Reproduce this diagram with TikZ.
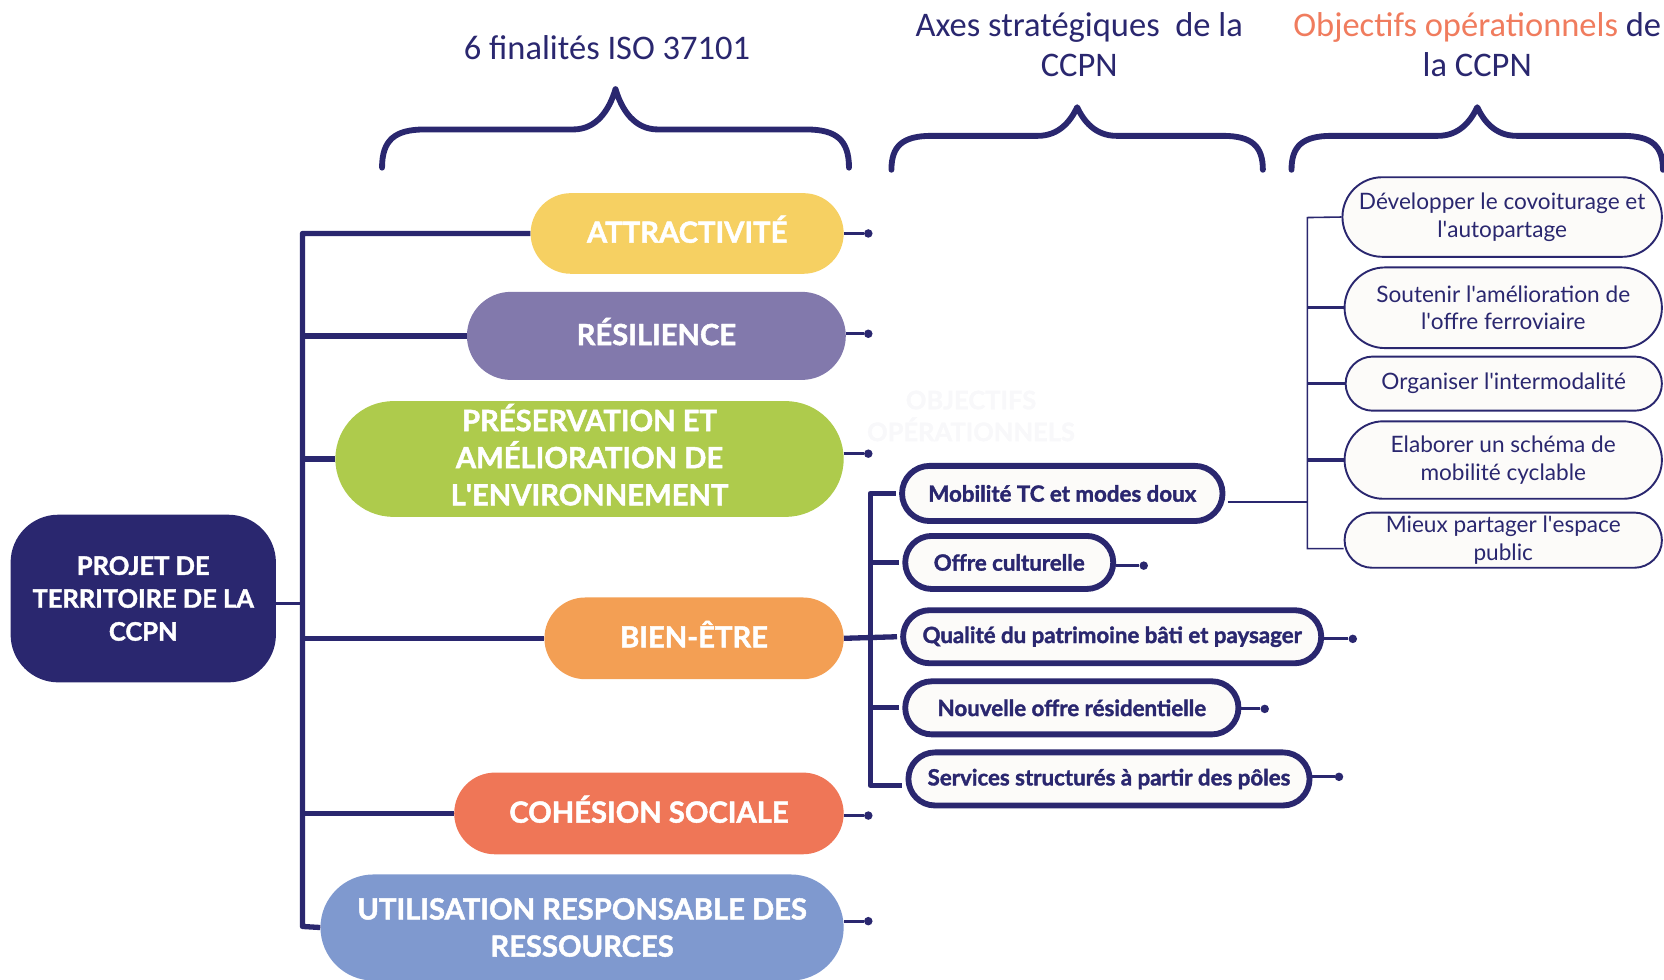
\documentclass[tikz,border=0pt]{standalone}
\usepackage{fontspec}
\setmainfont{Lato}
\newfontfamily\heavy{Lato}[BoldFeatures={FakeBold=1.6}]
\newfontfamily\hdr{Carlito}
\usetikzlibrary{shapes.misc,calc}
\definecolor{navy}{RGB}{42,39,111}
\definecolor{cyellow}{RGB}{246,208,98}
\definecolor{cpurple}{RGB}{130,121,172}
\definecolor{cgreen}{RGB}{174,203,76}
\definecolor{corange}{RGB}{243,159,84}
\definecolor{ccoral}{RGB}{239,118,87}
\definecolor{cblue}{RGB}{127,153,207}
\definecolor{boxfill}{RGB}{252,251,249}
\definecolor{horange}{RGB}{240,124,94}
\definecolor{ghost}{RGB}{248,248,250}
\newcommand{\apos}{\textquotesingle}
\tikzset{
  pill/.style={rounded rectangle, inner sep=0pt, fill=#1},
  ptext/.style={text=white, inner sep=0pt, yshift=4pt,
    font=\heavy\bfseries\fontsize{27.5}{35}\selectfont, align=center},
  axisbox/.style={rounded rectangle, inner sep=0pt, draw=navy, line width=5.5pt,
    fill=boxfill, text=navy, font=\heavy\bfseries\fontsize{21}{24}\selectfont},
  objbox/.style={rounded rectangle, inner sep=0pt, draw=navy, line width=1.8pt,
    fill=boxfill, text=navy, font=\fontsize{21.3}{26}\selectfont, align=center},
  trunk/.style={draw=navy, line width=5pt},
  thinline/.style={draw=navy, line width=1.5pt},
  midline/.style={draw=navy, line width=3pt},
  stub/.style={draw=navy, line width=3pt},
  dot/.style={circle, fill=navy, inner sep=0pt, minimum size=8pt},
  brace/.style={draw=navy, line width=5.5pt, line cap=round, line join=round},
  header/.style={text=navy, font=\hdr\fontsize{32.5}{37}\selectfont, align=center}
}
\begin{document}
\begin{tikzpicture}[x=1pt,y=-1pt]
\useasboundingbox (0,0) rectangle (1568,923);
\clip (0,0) rectangle (1568,923);

% headers
\node[header] (h1) at (572,45) {6 finalités ISO 37101};
\node[header] (h2) at (1017,42) {Axes stratégiques\ \ de la\\CCPN};
\node[header] (h3) at (1392,42) {\textcolor{horange}{Objectifs opérationnels} de\\la CCPN};

% braces
\draw[brace] (360,158) .. controls (360,132) and (372,122) .. (400,122) -- (540,122)
  .. controls (562,122) and (574,104) .. (580,84) .. controls (586,104) and (598,122) .. (620,122)
  -- (760,122) .. controls (788,122) and (800,132) .. (800,158);
\draw[brace] (840,160) .. controls (840,138) and (850,128) .. (878,128) -- (978,128)
  .. controls (998,128) and (1009,114) .. (1015,101) .. controls (1021,114) and (1032,128) .. (1052,128)
  -- (1152,128) .. controls (1180,128) and (1190,138) .. (1190,160);
\draw[brace] (1217,160) .. controls (1217,138) and (1227,128) .. (1255,128) -- (1355,128)
  .. controls (1375,128) and (1386,114) .. (1392,101) .. controls (1398,114) and (1409,128) .. (1429,128)
  -- (1529,128) .. controls (1557,128) and (1567,138) .. (1567,160);

% faint watermark
\node[text=ghost, font=\heavy\bfseries\fontsize{24}{30}\selectfont, align=center] (wm) at (915,392) {OBJECTIFS\\OPÉRATIONNELS};

% main node
\node[rectangle, rounded corners=45pt, fill=navy, text=white, minimum width=250pt,
  minimum height=158pt, inner sep=0pt, align=center,
  font=\heavy\bfseries\fontsize{24}{31}\selectfont] (main) at (135,564)
  {PROJET DE\\TERRITOIRE DE LA\\CCPN};

% finalités
\node[pill=cyellow, minimum width=295pt, minimum height=76pt] (att) at (647.5,220) {};
\node[pill=cpurple, minimum width=357pt, minimum height=83pt] (res) at (618.5,316.5) {};
\node[pill=cgreen, minimum width=479pt, minimum height=109pt] (pre) at (555.5,432.5) {};
\node[pill=corange, minimum width=282pt, minimum height=77pt] (bien) at (654,601.5) {};
\node[pill=ccoral, minimum width=367pt, minimum height=77pt] (coh) at (611.5,766.5) {};
\node[pill=cblue, minimum width=493pt, minimum height=100pt] (uti) at (548.5,874) {};
\node[ptext] (att-t) at (att) {ATTRACTIVITÉ};
\node[ptext] (res-t) at (res) {RÉSILIENCE};
\node[ptext] (pre-t) at (pre) {PRÉSERVATION ET\\AMÉLIORATION DE\\L\apos ENVIRONNEMENT};
\node[ptext] (bien-t) at (bien) {BIEN-ÊTRE};
\node[ptext] (coh-t) at (coh) {COHÉSION SOCIALE};
\node[ptext, yshift=-4pt] (uti-t) at (uti) {UTILISATION RESPONSABLE DES\\RESSOURCES};

% main trunk
\coordinate (ttop) at (285,220);
\coordinate (tbot) at (285,873);
\draw[trunk, line join=round] (att.west) -- (ttop) -- (tbot) -- (uti.west);
\draw[trunk] (res.west) -- (res.west -| ttop);
\draw[trunk] (pre.west) -- (pre.west -| ttop);
\draw[trunk] (bien.west) -- (bien.west -| ttop);
\draw[trunk] (coh.west) -- (coh.west -| ttop);
\coordinate (mainj) at ($(main.east)+(0,5)$);
\draw[midline] (mainj) -- (mainj -| ttop);

% axes
\node[axisbox, minimum width=302pt, minimum height=52pt] (mob) at (1001,465) {Mobilité TC et modes doux};
\node[axisbox, minimum width=196pt, minimum height=50pt] (off) at (951,530) {Offre culturelle};
\node[axisbox, minimum width=394pt, minimum height=50pt] (qua) at (1048,600) {Qualité du patrimoine bâti et paysager};
\node[axisbox, minimum width=314pt, minimum height=50pt] (nou) at (1010,667) {Nouvelle offre résidentielle};
\node[axisbox, minimum width=378pt, minimum height=50pt] (ser) at (1045,734) {Services structurés à partir des pôles};

\coordinate (stop) at (820,465);
\coordinate (sbot) at (820,740);
\draw[trunk, line join=round] ($(mob.west)+(-3,0)$) -- (stop) -- (sbot) -- ($(sbot -| ser.west)+(-3,0)$);
\draw[trunk] ($(off.west)+(-3,0)$) -- (off.west -| stop);
\draw[trunk] (bien.east) -- ($(qua.west)+(-3,0)$);
\draw[trunk] ($(nou.west)+(-3,0)$) -- (nou.west -| stop);

% dots on finalités
\node[dot] (d1) at ($(att.east)+(23,0)$) {};
\node[dot] (d2) at ($(res.east)+(21,-2)$) {};
\node[dot] (d3) at ($(pre.east)+(23,-5)$) {};
\node[dot] (d4) at ($(coh.east)+(23,2)$) {};
\node[dot] (d5) at ($(uti.east)+(23,-6)$) {};
\draw[stub] (att.east) -- (d1);
\draw[stub] (d2 -| res.east) -- (d2);
\draw[stub] (d3 -| pre.east) -- (d3);
\draw[stub] (d4 -| coh.east) -- (d4);
\draw[stub] (d5 -| uti.east) -- (d5);

% dots on axes
\node[dot] (e1) at ($(off.east)+(26,3)$) {};
\node[dot] (e2) at ($(qua.east)+(27,2)$) {};
\node[dot] (e3) at ($(nou.east)+(22,1)$) {};
\node[dot] (e4) at ($(ser.east)+(25,-2)$) {};
\draw[stub] (e1 -| off.east) -- (e1);
\draw[stub] (e2 -| qua.east) -- (e2);
\draw[stub] (e3 -| nou.east) -- (e3);
\draw[stub] (e4 -| ser.east) -- (e4);

% objectifs
\node[objbox, minimum width=301pt, minimum height=75pt] (dev) at (1415.5,204.5) {Développer le covoiturage et\\l\apos autopartage};
\node[objbox, minimum width=299pt, minimum height=76pt] (sou) at (1416.5,290) {Soutenir l\apos amélioration de\\l\apos offre ferroviaire};
\node[objbox, minimum width=298pt, minimum height=51pt] (org) at (1417,361.5) {Organiser l\apos intermodalité};
\node[objbox, minimum width=299pt, minimum height=73pt] (ela) at (1416.5,433.5) {Elaborer un schéma de\\mobilité cyclable};
\node[objbox, minimum width=299pt, minimum height=52pt] (mie) at (1416.5,509) {Mieux partager l\apos espace\\public};

\coordinate (otop) at (1232,205);
\coordinate (obot) at (1232,517);
\draw[thinline] (dev.west) -- (otop) -- (obot) -- (mie.west |- obot);
\draw[midline] (sou.west) -- (sou.west -| otop);
\draw[midline] (org.west) -- (org.west -| otop);
\draw[midline] (ela.west) -- (ela.west -| otop);
\coordinate (mobj) at ($(mob.east)+(2,8)$);
\draw[thinline] (mobj) -- (mobj -| otop);
\end{tikzpicture}
\end{document}
